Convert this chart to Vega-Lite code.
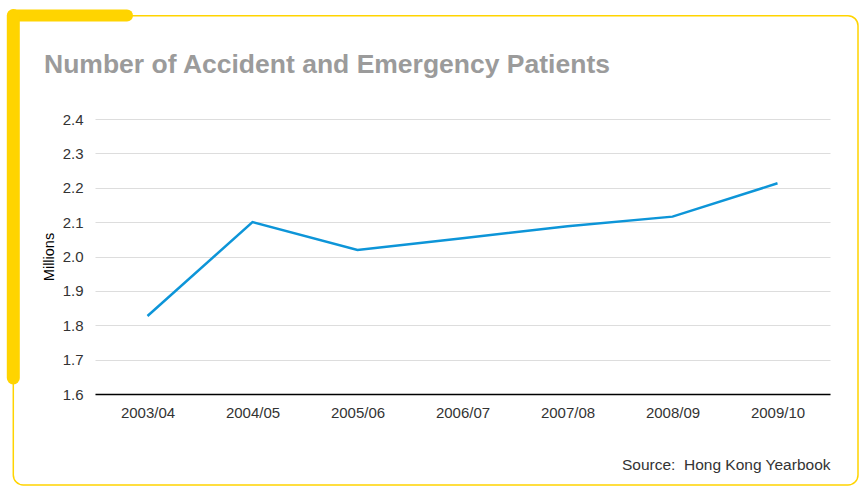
{
  "$schema": "https://vega.github.io/schema/vega-lite/v6.json",
  "autosize": {"type": "none"},
  "padding": {"left": 95, "top": 119, "right": 31, "bottom": 92},
  "width": 735,
  "height": 275,
  "background": "white",
  "config": {"view": {"stroke": null}, "font": "Liberation Sans"},
  "title": {
    "text": "Number of Accident and Emergency Patients",
    "anchor": "start",
    "frame": "group",
    "dx": -51,
    "dy": 100,
    "fontSize": 26.5,
    "fontWeight": "bold",
    "color": "#9b9b9b",
    "font": "Liberation Sans",
    "baseline": "alphabetic",
    "offset": 10
  },
  "layer": [
    {
      "data": {"values": [{}]},
      "mark": {"type": "rect", "fill": null, "stroke": "#FFD400", "strokeWidth": 1.5, "cornerRadius": 10},
      "encoding": {
        "x": {"value": -81.7},
        "x2": {"value": 763},
        "y": {"value": -103.3},
        "y2": {"value": 366}
      }
    },
    {
      "data": {"values": [{}]},
      "mark": {"type": "rule", "stroke": "#FFD400", "strokeWidth": 12, "strokeCap": "round"},
      "encoding": {
        "x": {"value": -81.7},
        "x2": {"value": 32},
        "y": {"value": -103.5}
      }
    },
    {
      "data": {"values": [{}]},
      "mark": {"type": "rule", "stroke": "#FFD400", "strokeWidth": 13, "strokeCap": "round"},
      "encoding": {
        "x": {"value": -81.7},
        "y": {"value": -103.5},
        "y2": {"value": 259}
      }
    },
    {
      "data": {
        "values": [
          {"year": "2003/04", "patients": 1.827},
          {"year": "2004/05", "patients": 2.1},
          {"year": "2005/06", "patients": 2.019},
          {"year": "2006/07", "patients": 2.053},
          {"year": "2007/08", "patients": 2.088},
          {"year": "2008/09", "patients": 2.116},
          {"year": "2009/10", "patients": 2.213}
        ]
      },
      "mark": {"type": "line", "color": "#0d95d8", "strokeWidth": 2.5},
      "encoding": {
        "x": {
          "field": "year",
          "type": "ordinal",
          "scale": {"type": "point", "padding": 0.5},
          "axis": {
            "title": "Source:\u00a0 Hong Kong Yearbook",
            "titleAnchor": "end",
            "titleAlign": "right",
            "titleFontSize": 15.5,
            "titleFontWeight": "normal",
            "titleColor": "#333333",
            "titlePadding": 37,
            "labelAngle": 0,
            "labelFontSize": 15,
            "labelColor": "#333333",
            "labelPadding": 11,
            "ticks": false,
            "domainColor": "#000000",
            "domainWidth": 1.5,
            "grid": false
          }
        },
        "y": {
          "field": "patients",
          "type": "quantitative",
          "scale": {"domain": [1.6, 2.4], "nice": false, "zero": false},
          "axis": {
            "title": "Millions",
            "titleFontSize": 14.5,
            "titleFontWeight": "normal",
            "titleColor": "#000000",
            "titlePadding": 6,
            "values": [1.6, 1.7, 1.8, 1.9, 2.0, 2.1, 2.2, 2.3, 2.4],
            "format": ".1f",
            "labelFontSize": 15,
            "labelColor": "#333333",
            "labelPadding": 12,
            "ticks": false,
            "domain": false,
            "gridColor": "#dddddd",
            "gridWidth": 1
          }
        }
      }
    }
  ]
}
